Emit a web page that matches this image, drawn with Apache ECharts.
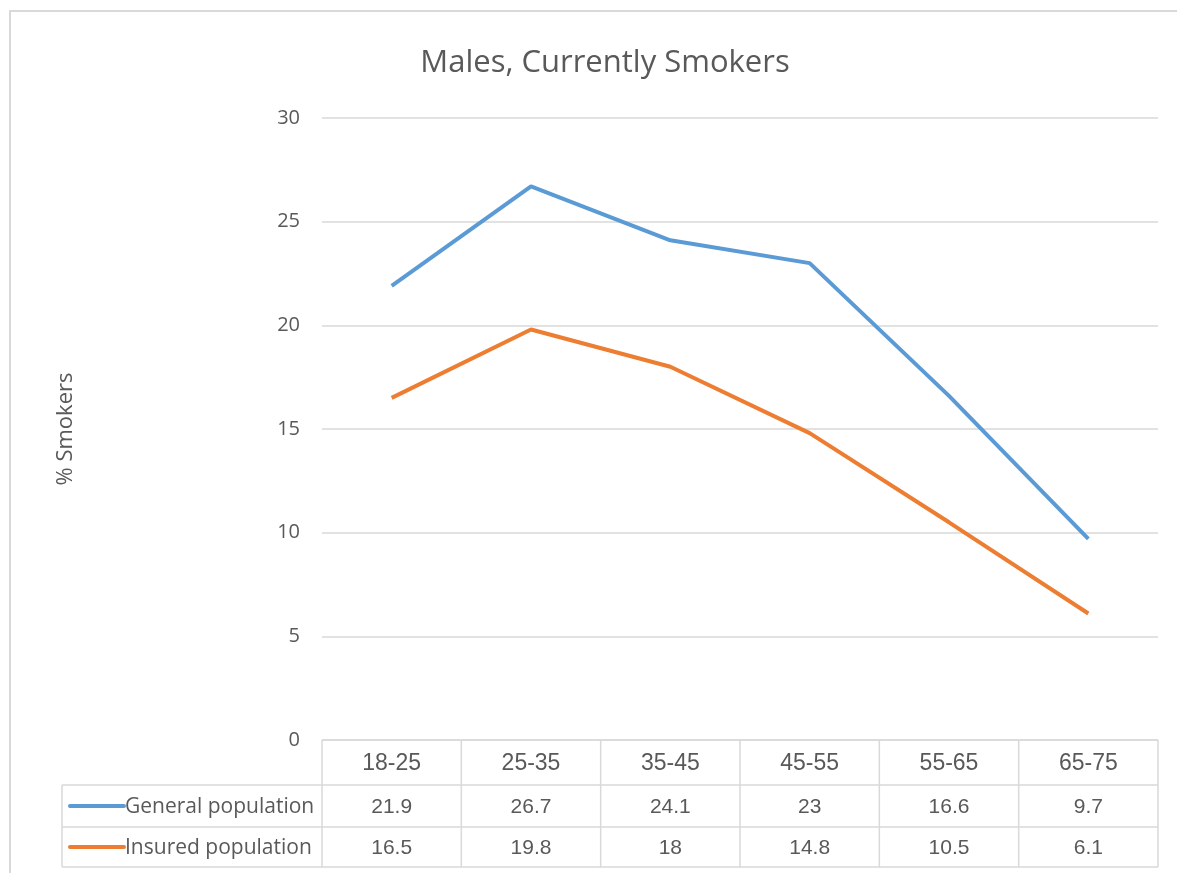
<!DOCTYPE html>
<html>
<head>
<meta charset="utf-8">
<script src="https://cdn.jsdelivr.net/npm/echarts@6/dist/echarts.min.js"></script>
<style>
html,body{margin:0;padding:0;background:#fff;}
#c{width:1177px;height:873px;}
</style>
</head>
<body>
<div id="c"></div>
<script>
const categories = ['18-25', '25-35', '35-45', '45-55', '55-65', '65-75'];
const generalPopulation = [21.9, 26.7, 24.1, 23, 16.6, 9.7];
const insuredPopulation = [16.5, 19.8, 18, 14.8, 10.5, 6.1];
const seriesNames = ['General population', 'Insured population'];
const seriesColors = ['#5B9BD5', '#ED7D31'];
const yMin = 0, yMax = 30, yStep = 5;
const titleText = 'Males, Currently Smokers';
const yAxisTitle = '% Smokers';

const chart = echarts.init(document.getElementById('c'), null, {renderer: 'canvas'});
const gridTop = 118, gridBottomY = 740, gridLeft = 322, gridRight = 1158;
const option = {
  animation: false,
  backgroundColor: '#fff',
  title: {
    text: titleText, left: 600, top: 43, textAlign: 'center',
    textStyle: {fontFamily: 'Open Sans', fontSize: 31, fontWeight: 'normal', color: '#595959'}
  },
  grid: {left: gridLeft, right: 1177 - gridRight, top: gridTop, bottom: 873 - gridBottomY},
  xAxis: {
    type: 'category', data: categories, boundaryGap: true,
    axisLine: {show: false}, axisTick: {show: false}, axisLabel: {show: false}
  },
  yAxis: {
    type: 'value', min: yMin, max: yMax, interval: yStep,
    name: yAxisTitle, nameLocation: 'middle', nameGap: 245, nameRotate: 90,
    nameTextStyle: {fontFamily: 'Open Sans', fontSize: 22, color: '#595959'},
    axisLine: {show: false}, axisTick: {show: false},
    axisLabel: {margin: 22, fontFamily: 'Open Sans', fontSize: 20, color: '#595959'},
    splitLine: {lineStyle: {color: '#d9d9d9', width: 1.5}}
  },
  series: [
    {name: seriesNames[0], type: 'line', data: generalPopulation, symbol: 'none',
     lineStyle: {color: seriesColors[0], width: 4}, itemStyle: {color: seriesColors[0]}},
    {name: seriesNames[1], type: 'line', data: insuredPopulation, symbol: 'none',
     lineStyle: {color: seriesColors[1], width: 4}, itemStyle: {color: seriesColors[1]}}
  ]
};
chart.setOption(option);

// Build data table under the plot from the axis scale
const centers = categories.map((c, i) => chart.convertToPixel({xAxisIndex: 0}, i));
const step = centers.length > 1 ? centers[1] - centers[0] : 100;
const bounds = [centers[0] - step / 2].concat(centers.map(c => c + step / 2));
const rowY = [740, 785, 827, 867];
const legendLeft = 62;
const lineC = '#d9d9d9';
const g = [];
g.push({type: 'rect', shape: {x: 10, y: 11, width: 1300, height: 1000},
  style: {fill: 'none', stroke: '#d9d9d9', lineWidth: 2}, z: -1});
// horizontal lines
g.push({type: 'line', shape: {x1: bounds[0], y1: rowY[0], x2: bounds[bounds.length - 1], y2: rowY[0]}, style: {stroke: lineC, lineWidth: 1.5}});
for (let r = 1; r < rowY.length; r++) {
  g.push({type: 'line', shape: {x1: legendLeft, y1: rowY[r], x2: bounds[bounds.length - 1], y2: rowY[r]}, style: {stroke: lineC, lineWidth: 1.5}});
}
// vertical lines
bounds.forEach(b => g.push({type: 'line', shape: {x1: b, y1: rowY[0], x2: b, y2: rowY[3]}, style: {stroke: lineC, lineWidth: 1.5}}));
g.push({type: 'line', shape: {x1: legendLeft, y1: rowY[1], x2: legendLeft, y2: rowY[3]}, style: {stroke: lineC, lineWidth: 1.5}});
// header
categories.forEach((c, i) => g.push({type: 'text', x: centers[i], y: (rowY[0] + rowY[1]) / 2 + 1,
  style: {text: c, fill: '#595959', font: '23px "Liberation Sans"', textAlign: 'center', textVerticalAlign: 'middle'}}));
// rows
[generalPopulation, insuredPopulation].forEach((arr, s) => {
  const cy = (rowY[s + 1] + rowY[s + 2]) / 2 + 1;
  g.push({type: 'line', shape: {x1: 70, y1: cy - 1, x2: 124, y2: cy - 1}, style: {stroke: seriesColors[s], lineWidth: 4, lineCap: 'round'}});
  g.push({type: 'text', x: 125, y: cy, style: {text: seriesNames[s], fill: '#595959', font: '21px "Open Sans"', textAlign: 'left', textVerticalAlign: 'middle'}});
  arr.forEach((v, i) => g.push({type: 'text', x: centers[i], y: cy,
    style: {text: String(v), fill: '#595959', font: '21px "Liberation Sans"', textAlign: 'center', textVerticalAlign: 'middle'}}));
});
chart.setOption({graphic: g});
</script>
</body>
</html>
